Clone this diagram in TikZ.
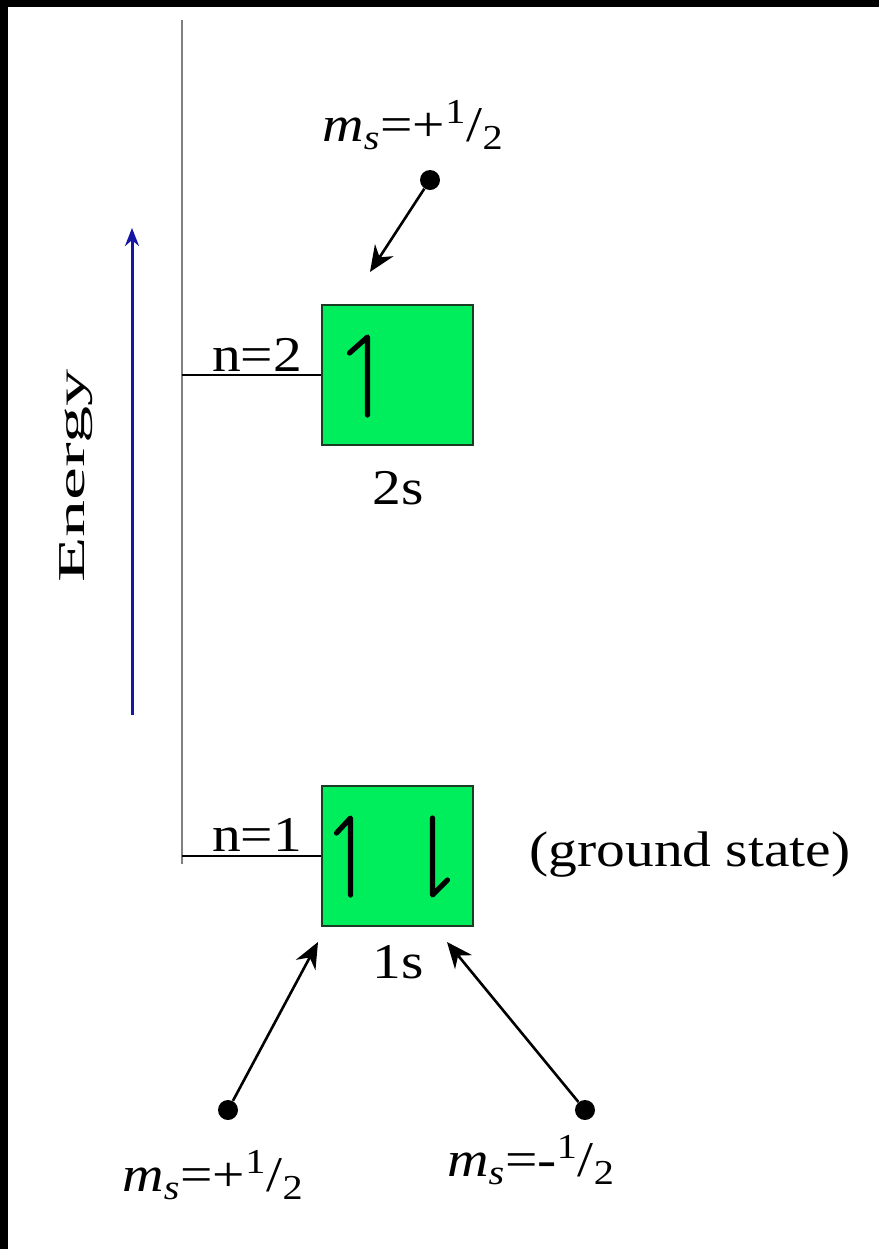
\documentclass[tikz,border=0pt]{standalone}
\usepackage{fontspec}
\setmainfont[FakeStretch=1.15]{Liberation Serif}
\usetikzlibrary{positioning,arrows.meta}
\definecolor{levelgreen}{RGB}{0,238,92}
\definecolor{boxedge}{RGB}{25,60,35}
\definecolor{energyblue}{RGB}{22,22,165}

\begin{document}
\begin{tikzpicture}[
    x=0.5pt, y=-0.5pt,
    box/.style={rectangle, draw=boxedge, line width=1.2pt, fill=levelgreen, minimum width=75.5pt, minimum height=70pt, inner sep=0pt},
    lbl/.style={font=\fontsize{25}{28}\selectfont, inner sep=0pt},
    mslbl/.style={font=\fontsize{25}{28}\selectfont, inner sep=0pt},
    dot/.style={circle, fill, inner sep=0pt, minimum size=10pt},
    arrow/.style={-{Stealth[length=13pt,width=11pt]}, line width=1.3pt},
    spin/.style={line width=2.6pt, line cap=round, line join=round},
    level/.style={line width=1.4pt},
]
\useasboundingbox (0,0) rectangle (879,1249);
\fill[black] (0,0) rectangle (879,1249);
\fill[white] (8,7) rectangle (879,1249);

\coordinate (axistop) at (182,20);
\coordinate (axisbot) at (182,864);
\draw[gray, line width=1.2pt] (axistop) -- (axisbot);

\node[box] (box2s) at (397.5,375) {};
\node[box] (box1s) at (397.5,856) {};

\draw[level] (box2s.west -| axisbot) -- (box2s.west);
\draw[level] (box1s.west -| axisbot) -- (box1s.west);

\node[lbl] (n2) at (257,355) {n=2};
\node[lbl] (n1) at (257,835) {n=1};
\node[lbl] (lbl2s) at (398,488) {2s};
\node[lbl] (lbl1s) at (398,962) {1s};
\node[lbl] (ground) at (690,855) {(ground state)};

\draw[spin] ([shift={(-30,40)}]box2s.center) -- ++(0,-78) -- ++(-18,16);
\draw[spin] ([shift={(-47,39)}]box1s.center) -- ++(0,-77) -- ++(-14,15);
\draw[spin] ([shift={(35,-38)}]box1s.center) -- ++(0,77) -- ++(15,-15);

\coordinate (ebot) at (132,715);
\coordinate (etop) at (132,228);
\draw[energyblue, line width=1.5pt, -{Stealth[length=9pt,width=7pt]}] (ebot) -- (etop);
\node[rotate=90, inner sep=0pt, font=\fontsize{19}{22}\selectfont] (energy) at (76,476) {\scalebox{1.7}[1]{Energy}};

\node[dot] (dottop) at (430,180) {};
\node[dot] (dotleft) at (228,1110) {};
\node[dot] (dotright) at (585,1110) {};
\coordinate (tip2s) at (370,272);
\coordinate (tipleft) at (318,942);
\coordinate (tipright) at (447,942);
\draw[arrow] (dottop) -- (tip2s);
\draw[arrow] (dotleft) -- (tipleft);
\draw[arrow] (dotright) -- (tipright);

\node[mslbl] (mstop) at (413,125) {\textit{m}\textsubscript{\textit{s}}=+\textsuperscript{1}/\textsubscript{2}};
\node[mslbl] (msleft) at (213,1175) {\textit{m}\textsubscript{\textit{s}}=+\textsuperscript{1}/\textsubscript{2}};
\node[mslbl] (msright) at (531,1160) {\textit{m}\textsubscript{\textit{s}}=-\textsuperscript{1}/\textsubscript{2}};

\end{tikzpicture}
\end{document}
